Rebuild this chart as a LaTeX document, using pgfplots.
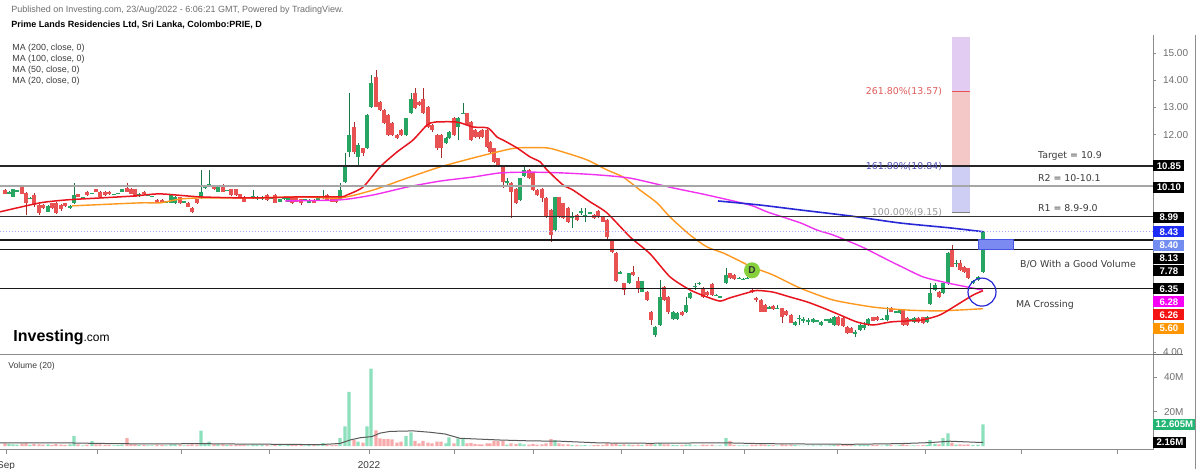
\documentclass[border=0pt]{standalone}
\usepackage{pgfplots}
\pgfplotsset{compat=1.18}
\usepackage{pgfplotstable}
\usepackage{fontspec}
\setmainfont{Liberation Sans}
\newfontfamily\dv{DejaVu Sans}
\newcommand\fs[1]{\fontsize{#1}{#1}\selectfont}
\definecolor{cG}{RGB}{38,166,98}
\definecolor{cGd}{RGB}{25,120,70}
\definecolor{cR}{RGB}{232,82,82}
\definecolor{cRd}{RGB}{170,45,45}
\definecolor{vG}{RGB}{140,224,188}
\definecolor{vR}{RGB}{246,170,170}
\definecolor{maR}{RGB}{232,20,30}
\definecolor{maO}{RGB}{255,152,30}
\definecolor{maM}{RGB}{240,50,240}
\definecolor{maB}{RGB}{40,40,215}
\definecolor{fibTop}{RGB}{226,204,242}
\definecolor{fibMid}{RGB}{245,200,200}
\definecolor{fibLow}{RGB}{206,206,244}
\definecolor{txt}{RGB}{60,60,60}
\definecolor{axg}{RGB}{140,140,140}
\definecolor{labg}{RGB}{110,110,110}
\definecolor{dGreen}{RGB}{134,208,60}

\pgfplotstableread{
x o h l c v
5 9.96 10.00 9.80 9.82 1.5
9 9.84 9.92 9.82 9.90 1.2
13 9.72 10.00 9.70 9.99 1.0
17 9.94 9.96 9.92 9.94 0.8
22 10.11 10.12 9.80 9.82 1.4
26 9.87 9.90 9.04 9.47 1.6
30 9.66 9.70 9.62 9.66 0.6
34 9.78 9.84 9.35 9.41 1.2
39 9.41 9.45 9.04 9.11 1.0
43 9.41 9.45 9.25 9.29 0.8
48 9.17 9.40 9.15 9.38 0.9
52 9.47 9.50 9.25 9.29 0.7
56 9.50 9.52 9.08 9.11 1.1
61 9.41 9.45 9.20 9.25 0.8
65 9.47 9.50 9.35 9.38 0.6
70 9.29 9.40 9.27 9.39 0.9
74 9.47 10.21 9.45 9.78 5.7
78 9.80 9.82 9.70 9.72 1.0
83 9.69 9.72 9.66 9.69 0.4
87 9.90 9.92 9.76 9.78 0.8
92 9.84 9.86 9.82 9.84 2.9
96 9.99 10.00 9.88 9.90 0.9
100 9.90 9.92 9.70 9.72 1.0
105 9.90 9.92 9.76 9.78 0.7
109 9.90 9.92 9.78 9.80 0.6
114 9.80 9.82 9.78 9.80 0.4
118 9.84 9.87 9.80 9.84 0.5
122 9.90 10.00 9.88 9.99 0.8
127 10.03 10.21 9.88 9.90 4.6
131 10.00 10.02 9.80 9.82 1.0
135 9.99 10.00 9.70 9.72 0.9
139 9.74 9.84 9.72 9.82 0.7
144 9.90 9.92 9.78 9.80 0.6
148 9.78 9.80 9.74 9.78 0.4
152 9.74 9.76 9.70 9.74 0.4
157 9.60 9.62 9.48 9.50 0.8
162 9.60 9.62 9.48 9.50 0.7
166 9.54 9.56 9.50 9.54 0.4
171 9.50 9.80 9.48 9.78 1.0
175 9.47 9.74 9.45 9.72 0.9
180 9.69 9.72 9.45 9.47 0.8
184 9.54 9.56 9.50 9.54 0.4
188 9.50 9.52 9.33 9.35 0.7
192 9.31 9.33 9.12 9.17 0.9
197 9.62 9.65 9.45 9.47 0.8
201 9.66 10.70 9.64 9.90 9.0
205 10.03 10.15 10.00 10.12 1.8
209 10.15 10.70 10.09 10.15 2.5
214 10.11 10.13 9.97 9.99 0.9
218 9.90 10.13 9.88 10.11 1.0
223 10.15 10.17 9.88 9.90 0.9
227 9.96 9.98 9.94 9.96 0.5
231 9.99 10.01 9.76 9.78 0.8
236 9.99 10.01 9.76 9.78 0.7
240 9.80 9.82 9.64 9.66 0.6
244 9.72 9.74 9.52 9.54 0.7
248 9.69 9.72 9.66 9.69 0.4
253 9.66 9.96 9.64 9.74 0.8
257 9.62 9.74 9.60 9.72 0.6
262 9.62 9.74 9.60 9.72 0.6
267 9.78 9.80 9.57 9.60 0.7
271 9.68 9.70 9.65 9.68 0.3
275 9.78 9.80 9.48 9.50 0.8
280 9.54 9.64 9.52 9.62 0.5
284 9.66 9.68 9.62 9.66 0.3
288 9.54 9.71 9.52 9.69 0.6
292 9.66 9.68 9.46 9.50 0.7
296 9.69 9.71 9.52 9.54 0.6
301 9.62 9.64 9.42 9.47 0.8
305 9.60 9.62 9.57 9.60 0.3
309 9.50 9.62 9.48 9.60 0.5
314 9.60 9.62 9.48 9.50 0.5
318 9.60 9.68 9.58 9.66 0.4
323 9.66 9.96 9.64 9.72 1.7
327 9.78 9.80 9.58 9.60 0.6
332 9.66 9.68 9.52 9.54 0.5
336 9.62 9.64 9.50 9.54 0.6
340 9.60 10.21 9.58 9.96 4.6
345 10.27 11.31 10.23 10.82 11.4
349 11.37 13.52 11.19 11.99 31.4
354 12.29 12.48 11.30 11.37 3.5
358 11.19 11.68 10.82 11.62 2.5
363 11.50 11.52 11.20 11.31 2.0
367 11.50 12.75 11.48 12.72 11.4
371 13.03 14.19 12.97 13.89 45.0
376 14.13 14.38 13.00 13.03 9.1
380 13.21 13.25 12.85 12.90 4.5
384 12.90 12.95 12.38 12.41 4.0
388 12.72 12.75 11.95 11.99 4.2
392 12.41 12.45 11.95 11.99 3.8
397 11.99 12.02 11.82 11.86 2.0
401 12.17 12.20 11.95 11.99 2.5
406 11.99 12.62 11.95 12.60 5.7
411 12.78 13.52 12.75 13.30 8.0
415 13.52 13.70 12.95 12.97 3.0
419 13.21 13.25 13.05 13.09 1.5
423 13.30 13.70 12.75 12.78 3.0
428 13.03 13.05 12.25 12.29 2.0
432 12.35 12.38 12.10 12.17 1.5
437 11.99 12.02 11.45 11.50 2.5
441 11.99 12.02 11.13 11.50 2.5
446 11.68 11.90 11.65 11.86 1.5
449 11.86 12.15 11.84 12.11 5.0
454 12.60 12.65 11.95 11.99 1.5
458 12.29 12.65 11.80 12.60 4.5
463 12.78 13.15 12.75 12.78 4.0
467 12.78 12.80 12.30 12.35 1.5
471 12.48 12.50 11.75 11.80 1.8
475 12.17 12.20 11.88 11.92 1.2
479 12.11 12.14 11.85 11.92 1.0
482 12.17 12.20 11.88 11.92 1.0
487 12.17 12.20 11.50 11.56 1.5
490 11.74 11.78 11.30 11.37 1.5
494 11.50 11.52 10.95 11.00 3.0
498 11.13 11.15 10.80 10.88 3.0
503 10.82 10.85 10.03 10.27 3.0
507 10.27 10.39 10.15 10.27 0.8
511 10.21 10.25 8.92 9.90 1.5
516 9.99 10.02 9.44 9.47 1.2
520 9.60 10.42 9.57 10.39 1.5
524 10.48 10.88 10.45 10.70 1.0
529 10.70 10.73 10.36 10.39 0.8
533 10.60 10.63 9.93 9.96 1.2
537 9.96 9.99 9.75 9.78 0.8
542 9.99 10.02 9.54 9.66 0.9
546 9.66 9.69 8.95 8.98 1.5
551 9.23 9.26 8.06 8.31 4.0
555 8.49 9.72 8.46 9.69 3.5
559 9.69 9.72 8.95 8.98 1.5
563 9.47 9.50 8.88 8.92 1.0
568 9.29 9.32 8.76 8.80 0.9
572 8.98 9.17 8.55 8.98 0.6
577 9.04 9.07 8.83 8.86 0.7
581 9.17 9.29 9.04 9.17 0.4
585 9.01 9.29 8.80 9.01 0.5
590 9.13 9.17 9.10 9.13 0.3
594 9.04 9.07 8.90 8.92 0.5
598 9.19 9.22 8.95 8.98 0.6
603 8.98 9.01 8.77 8.80 0.7
607 8.86 8.89 8.13 8.25 1.5
612 8.13 8.16 7.66 7.70 1.2
616 7.64 7.67 6.57 6.60 1.6
620 6.90 6.98 6.88 6.96 0.6
624 6.53 6.56 6.10 6.29 1.0
629 6.53 6.93 6.50 6.90 0.8
633 6.96 7.17 6.80 6.84 0.6
638 6.60 6.78 6.17 6.35 0.8
642 6.23 6.63 6.20 6.60 0.7
647 6.23 6.26 5.89 5.92 0.9
651 5.49 5.52 5.00 5.19 1.2
655 4.63 4.97 4.57 4.94 1.0
660 5.00 6.66 4.97 6.04 1.7
664 6.41 6.44 5.89 5.92 1.0
668 6.04 6.07 5.40 5.49 0.9
673 5.21 5.52 5.18 5.49 0.6
677 5.21 5.46 5.18 5.43 0.5
682 5.49 5.52 5.34 5.37 0.5
686 5.49 6.04 5.43 5.74 0.8
690 5.98 6.23 5.95 6.17 0.9
695 6.43 6.53 6.29 6.43 0.4
699 6.53 6.58 6.48 6.53 0.3
703 6.35 6.38 6.01 6.04 0.8
707 6.23 6.26 6.07 6.10 0.6
712 6.51 6.54 6.07 6.10 0.8
716 6.10 6.14 6.06 6.10 0.3
720 6.04 6.08 6.00 6.04 0.4
726 6.53 7.08 6.50 6.84 4.6
730 6.90 6.93 6.69 6.72 3.0
734 6.84 6.87 6.65 6.68 0.7
739 6.72 6.75 6.69 6.72 0.4
743 6.68 6.71 6.65 6.68 0.4
747 6.72 6.75 6.69 6.72 0.4
752 6.29 6.35 6.17 6.23 0.8
756 5.98 6.04 5.86 5.92 0.7
761 5.92 5.95 5.46 5.49 1.0
765 5.74 5.77 5.46 5.49 0.8
769 5.61 5.70 5.58 5.67 0.5
773 5.70 5.73 5.55 5.58 0.5
777 5.61 5.74 5.58 5.61 0.3
782 5.61 5.64 5.06 5.31 0.9
786 5.52 5.55 5.34 5.37 0.6
791 5.37 5.40 5.06 5.09 0.8
795 5.00 5.15 4.97 5.12 0.5
799 5.25 5.37 5.00 5.25 0.3
803 5.19 5.31 5.06 5.19 0.3
808 5.16 5.25 5.00 5.16 0.3
813 5.12 5.24 5.09 5.21 0.4
817 5.16 5.19 5.13 5.16 0.3
821 5.00 5.15 4.97 5.12 0.4
826 5.19 5.22 5.16 5.19 0.3
830 5.09 5.24 5.06 5.21 0.4
834 5.00 5.34 4.97 5.31 0.7
838 5.31 5.34 4.97 5.00 0.8
843 5.25 5.28 4.94 4.96 0.8
847 4.94 4.97 4.66 4.69 0.9
851 4.88 4.91 4.69 4.72 0.7
855 4.72 4.82 4.57 4.72 0.4
860 4.82 5.03 4.79 5.00 0.6
864 4.88 5.12 4.82 5.00 0.6
868 5.00 5.24 4.97 5.21 0.7
873 5.28 5.31 5.13 5.16 0.5
877 5.31 5.34 5.16 5.19 0.5
882 5.21 5.24 5.18 5.21 0.3
887 5.19 5.67 5.16 5.37 0.8
891 5.61 5.67 5.46 5.49 0.6
896 5.49 5.52 5.46 5.49 0.3
900 5.43 5.58 5.40 5.55 0.5
903 5.55 5.58 4.97 5.00 0.9
907 5.25 5.28 4.97 5.00 0.6
911 5.19 5.22 5.16 5.19 0.3
914 5.12 5.28 5.09 5.25 0.4
918 5.25 5.28 5.09 5.12 0.4
923 5.28 5.31 5.03 5.06 0.5
927 5.12 5.34 5.09 5.31 0.6
930 5.77 6.53 5.74 6.17 3.5
935 6.29 6.53 6.26 6.47 1.2
939 6.23 6.26 6.01 6.04 1.0
943 6.17 6.56 6.14 6.53 4.6
948 6.53 7.70 6.47 7.64 7.3
952 7.76 7.94 7.12 7.15 2.0
956 7.27 7.39 7.15 7.27 0.8
960 7.27 7.39 6.99 7.02 1.0
964 7.15 7.18 6.93 6.96 0.8
968 7.08 7.11 6.69 6.72 1.0
973 6.59 6.66 6.51 6.59 0.5
978 6.66 6.81 6.63 6.78 0.8
983 6.96 8.45 6.93 8.43 12.6
}\candles

\pgfplotstableread{
x p
0 9.16
40 9.49
67 9.60
100 9.67
133 9.74
160 9.82
200 9.71
250 9.67
300 9.71
340 9.71
347 9.78
363 10.07
380 10.81
397 11.36
413 11.80
427 12.35
435 12.46
457 12.46
473 12.28
488 12.24
497 11.91
503 11.80
517 11.51
530 11.18
540 11.00
547 10.70
563 10.15
573 9.96
590 9.53
607 9.12
630 8.24
650 7.62
670 6.77
690 6.29
707 6.03
720 5.88
730 6.00
747 6.18
757 6.27
773 6.21
790 6.03
807 5.85
823 5.63
840 5.37
857 5.11
873 5.00
890 5.11
907 5.15
923 5.19
940 5.37
957 5.74
973 6.10
983 6.26
}\maTwenty

\pgfplotstableread{
x p
72 9.38
140 9.49
160 9.49
180 9.63
200 9.67
250 9.67
300 9.71
340 9.67
373 9.96
407 10.40
440 10.81
473 11.14
497 11.36
517 11.51
547 11.51
563 11.36
587 11.07
607 10.70
623 10.44
640 9.96
657 9.49
670 8.97
690 8.31
707 7.87
723 7.65
740 7.35
752 7.13
773 6.84
800 6.36
833 5.92
873 5.66
907 5.55
940 5.52
983 5.60
}\maFifty

\pgfplotstableread{
x p
285 9.56
340 9.60
373 9.78
407 10.07
440 10.29
473 10.44
500 10.59
530 10.62
563 10.59
597 10.52
630 10.40
673 10.04
707 9.78
750 9.41
767 9.16
800 8.76
817 8.49
833 8.31
857 7.95
867 7.78
890 7.35
900 7.17
923 6.77
947 6.55
967 6.40
983 6.28
}\maHundred

\pgfplotstableread{
x p
718 9.56
760 9.41
800 9.23
850 9.01
900 8.75
950 8.57
983 8.43
}\maTwoHundred

\pgfplotstableread{
x v
0 1.8
60 1.9
100 1.5
150 1.2
200 1.4
230 1.2
280 1.0
320 0.8
340 1.5
350 3.5
360 4.8
372 5.5
380 7.5
390 8.5
413 8.8
430 8.0
445 7.0
460 4.5
500 3.5
530 3.0
560 2.8
600 1.8
650 1.6
700 1.8
730 1.8
760 1.4
800 1.2
850 1.0
900 1.4
930 2.0
950 2.8
975 2.2
983 2.16
}\volMA

\pgfplotsset{
  candle/.style n args={3}{draw=none, mark=none, forget plot,
    x filter/.expression={#1 ? x : nan},
    error bars/.cd, y dir=both, y explicit, error mark=none,
    error bar style={draw=#2, line width=#3}},
}

\begin{document}
\begin{tikzpicture}
\useasboundingbox (0,0) rectangle (600pt,234.5pt);
\fill[white] (0,0) rectangle (600pt,234.5pt);

% ---------------- price panel ----------------
\begin{axis}[
  at={(0pt,57pt)}, anchor=south west, scale only axis,
  width=576.5pt, height=160pt,
  xmin=0, xmax=1153, ymin=3.898, ymax=15.661,
  clip=false,
  axis x line*=bottom, axis y line*=right,
  axis line style={-, draw=axg, line width=0.5pt},
  xtick=\empty,
  ytick={4,12,13,14,15},
  extra y ticks={5,6,7,8,9,10,11},
  extra y tick labels={},
  tick align=outside, major tick length=1.5pt,
  tick style={draw=axg, line width=0.4pt},
  y tick label style={font=\fs{5}, text=labg},
  yticklabel={\pgfmathprintnumber[fixed,fixed zerofill,precision=2,assume math mode=true]{\tick}},
]
% Fibonacci extension block
\fill[fibTop] (axis cs:952,13.57) rectangle (axis cs:970,15.6);
\fill[fibMid] (axis cs:952,10.84) rectangle (axis cs:970,13.57);
\fill[fibLow] (axis cs:952,9.15) rectangle (axis cs:970,10.84);
\draw[cR, line width=0.5pt] (axis cs:952,13.57) -- (axis cs:970,13.57);
\draw[maB!70!black, line width=0.5pt] (axis cs:952,10.84) -- (axis cs:970,10.84);
\draw[gray, line width=0.5pt] (axis cs:952,9.15) -- (axis cs:970,9.15);

% wicks
\addplot[candle={\thisrow{c}>=\thisrow{o}}{cGd}{0.45pt}]
  table[x=x, y expr={(\thisrow{h}+\thisrow{l})/2}, y error expr={(\thisrow{h}-\thisrow{l})/2}] {\candles};
\addplot[candle={\thisrow{c}<\thisrow{o}}{cRd}{0.45pt}]
  table[x=x, y expr={(\thisrow{h}+\thisrow{l})/2}, y error expr={(\thisrow{h}-\thisrow{l})/2}] {\candles};
% bodies
\addplot[candle={\thisrow{c}>=\thisrow{o}}{cG}{1.6pt}]
  table[x=x, y expr={(\thisrow{o}+\thisrow{c})/2}, y error expr={max(abs(\thisrow{c}-\thisrow{o})/2,0.018)}] {\candles};
\addplot[candle={\thisrow{c}<\thisrow{o}}{cR}{1.6pt}]
  table[x=x, y expr={(\thisrow{o}+\thisrow{c})/2}, y error expr={max(abs(\thisrow{c}-\thisrow{o})/2,0.018)}] {\candles};

% moving averages
\addplot[maO, line width=0.7pt, smooth, tension=0.4] table[x=x,y=p] {\maFifty};
\addplot[maM, line width=0.7pt, smooth, tension=0.4] table[x=x,y=p] {\maHundred};
\addplot[maB, line width=0.8pt, smooth, tension=0.4] table[x=x,y=p] {\maTwoHundred};
\addplot[maR, line width=0.75pt, smooth, tension=0.4] table[x=x,y=p] {\maTwenty};

% horizontal levels
\addplot[black!85, line width=0.9pt] coordinates {(0,10.85) (1153,10.85)};
\addplot[black!35, line width=0.9pt] coordinates {(0,10.10) (1153,10.10)};
\addplot[black!80, line width=0.9pt] coordinates {(0,8.99) (1153,8.99)};
\addplot[blue!35, line width=0.5pt, densely dotted] coordinates {(0,8.43) (1153,8.43)};
\addplot[black!90, line width=0.7pt] coordinates {(0,8.13) (1153,8.13)};
\addplot[black!90, line width=0.7pt] coordinates {(0,7.78) (1153,7.78)};
\addplot[black!90, line width=0.7pt] coordinates {(0,6.35) (1153,6.35)};

% breakout box, circles
\filldraw[fill={rgb,255:red,122;green,138;blue,240}, draw={rgb,255:red,70;green,85;blue,225}, line width=0.4pt]
  (axis cs:978,8.13) rectangle (axis cs:1013,7.78);
\draw[maB, line width=0.6pt] (axis cs:982,6.21) circle[radius=7pt];
\node[circle, fill=dGreen, minimum size=8pt, inner sep=0pt, font=\fs{5}\bfseries, text=black!80] at (axis cs:752,7.01) {D};

% fib labels
\node[anchor=east, font=\dv\fs{4.7}, text={rgb,255:red,224;green,90;blue,90}] at (axis cs:949,13.57) {261.80\%(13.57)};
\node[anchor=east, font=\dv\fs{4.7}, text={rgb,255:red,80;green,80;blue,180}] at (axis cs:949,10.84) {161.80\%(10.84)};
\node[anchor=east, font=\dv\fs{4.7}, text=gray!80] at (axis cs:949,9.15) {100.00\%(9.15)};

% annotations
\node[anchor=west, font=\dv\fs{4.7}, text=txt] at (axis cs:1031,11.22) {Target = 10.9};
\node[anchor=west, font=\dv\fs{4.7}, text=txt] at (axis cs:1031,10.40) {R2 = 10-10.1};
\node[anchor=west, font=\dv\fs{4.7}, text=txt] at (axis cs:1031,9.30) {R1 = 8.9-9.0};
\node[anchor=west, font=\dv\fs{4.7}, text=txt] at (axis cs:1013,7.24) {B/O With a Good Volume};
\node[anchor=west, font=\dv\fs{4.7}, text=txt] at (axis cs:1009,5.73) {MA Crossing};

% price tags on the right scale
\tikzset{tag/.style={anchor=west, inner sep=0pt, minimum width=15.5pt, minimum height=5.5pt, font=\fs{4.8}\bfseries, text=white}}
\node[tag, fill=black] at (axis cs:1153,10.85) {10.85};
\node[tag, fill=black] at (axis cs:1153,10.07) {10.10};
\node[tag, fill=black] at (axis cs:1153,8.97) {8.99};
\node[tag, fill={rgb,255:red,30;green,45;blue,245}] at (axis cs:1153,8.42) {8.43};
\node[tag, fill={rgb,255:red,115;green,140;blue,240}] at (axis cs:1153,7.94) {8.40};
\node[tag, fill=black] at (axis cs:1153,7.46) {8.13};
\node[tag, fill=black] at (axis cs:1153,6.99) {7.78};
\node[tag, fill=black] at (axis cs:1153,6.33) {6.35};
\node[tag, fill={rgb,255:red,245;green,0;blue,245}] at (axis cs:1153,5.85) {6.28};
\node[tag, fill={rgb,255:red,245;green,20;blue,20}] at (axis cs:1153,5.37) {6.26};
\node[tag, fill={rgb,255:red,255;green,150;blue,0}] at (axis cs:1153,4.89) {5.60};
\end{axis}

% ---------------- volume panel ----------------
\begin{axis}[
  at={(0pt,9.5pt)}, anchor=south west, scale only axis,
  width=576.5pt, height=47.5pt,
  xmin=0, xmax=1153, ymin=-2.3, ymax=52.9,
  clip=false,
  axis x line*=bottom, axis y line*=right,
  axis line style={-, draw=axg, line width=0.5pt},
  xtick={6,97,181,269,369,454,533,621,683,744,837,925,1021,1117},
  xticklabels={Sep,,,,2022,,,,,,,,,},
  ytick={20,40}, yticklabels={20M,40M},
  tick align=outside, major tick length=2pt,
  tick style={draw=axg, line width=0.4pt},
  y tick label style={font=\fs{5}, text=labg},
  x tick label style={font=\fs{5}, text=txt},
]
\addplot[ybar, bar width=1.7pt, bar shift=0pt, fill=vG, draw=none, forget plot,
  x filter/.expression={\thisrow{c}>=\thisrow{o} ? x : nan}]
  table[x=x, y=v] {\candles};
\addplot[ybar, bar width=1.7pt, bar shift=0pt, fill=vR, draw=none, forget plot,
  x filter/.expression={\thisrow{c}<\thisrow{o} ? x : nan}]
  table[x=x, y=v] {\candles};
\addplot[black!65, line width=0.5pt] table[x=x, y=v] {\volMA};
\node[anchor=west, inner sep=0pt, minimum width=21pt, minimum height=5.5pt, font=\fs{4.8}\bfseries, text=white, fill={rgb,255:red,34;green,181;blue,115}] at (axis cs:1153,12.8) {12.605M};
\node[anchor=west, inner sep=0pt, minimum width=16.5pt, minimum height=5.5pt, font=\fs{4.8}\bfseries, text=white, fill=black] at (axis cs:1153,2.3) {2.16M};
\end{axis}

% ---------------- overlay (pixel coordinates) ----------------
\begin{scope}[x=0.5pt, y=-0.5pt, shift={(0pt,234.5pt)}]
\draw[axg!80!black, line width=0.5pt] (1153,355) -- (1183,355);
\draw[axg, line width=0.5pt] (1195,35) -- (1195,469);
\node[anchor=base west, inner sep=0pt, font=\fs{4.5}, text=labg] at (11,13) {Published on Investing.com, 23/Aug/2022 - 6:06:21 GMT, Powered by TradingView.};
\node[anchor=base west, inner sep=0pt, font=\fs{4.5}\bfseries, text=black] at (11,28) {Prime Lands Residencies Ltd, Sri Lanka, Colombo:PRIE, D};
\node[anchor=base west, inner sep=0pt, font=\fs{4.45}, text=txt] at (12,51) {MA (200, close, 0)};
\node[anchor=base west, inner sep=0pt, font=\fs{4.45}, text=txt] at (12,62) {MA (100, close, 0)};
\node[anchor=base west, inner sep=0pt, font=\fs{4.45}, text=txt] at (12,73) {MA (50, close, 0)};
\node[anchor=base west, inner sep=0pt, font=\fs{4.45}, text=txt] at (12,84) {MA (20, close, 0)};
\node[anchor=base west, inner sep=0pt, font=\fs{4.3}, text=txt] at (8,369) {Volume (20)};
\node[anchor=base west, inner sep=0pt] at (13,342) {{\fs{8}\bfseries Investing}{\fs{6}.com}};
\end{scope}
\end{tikzpicture}
\end{document}
